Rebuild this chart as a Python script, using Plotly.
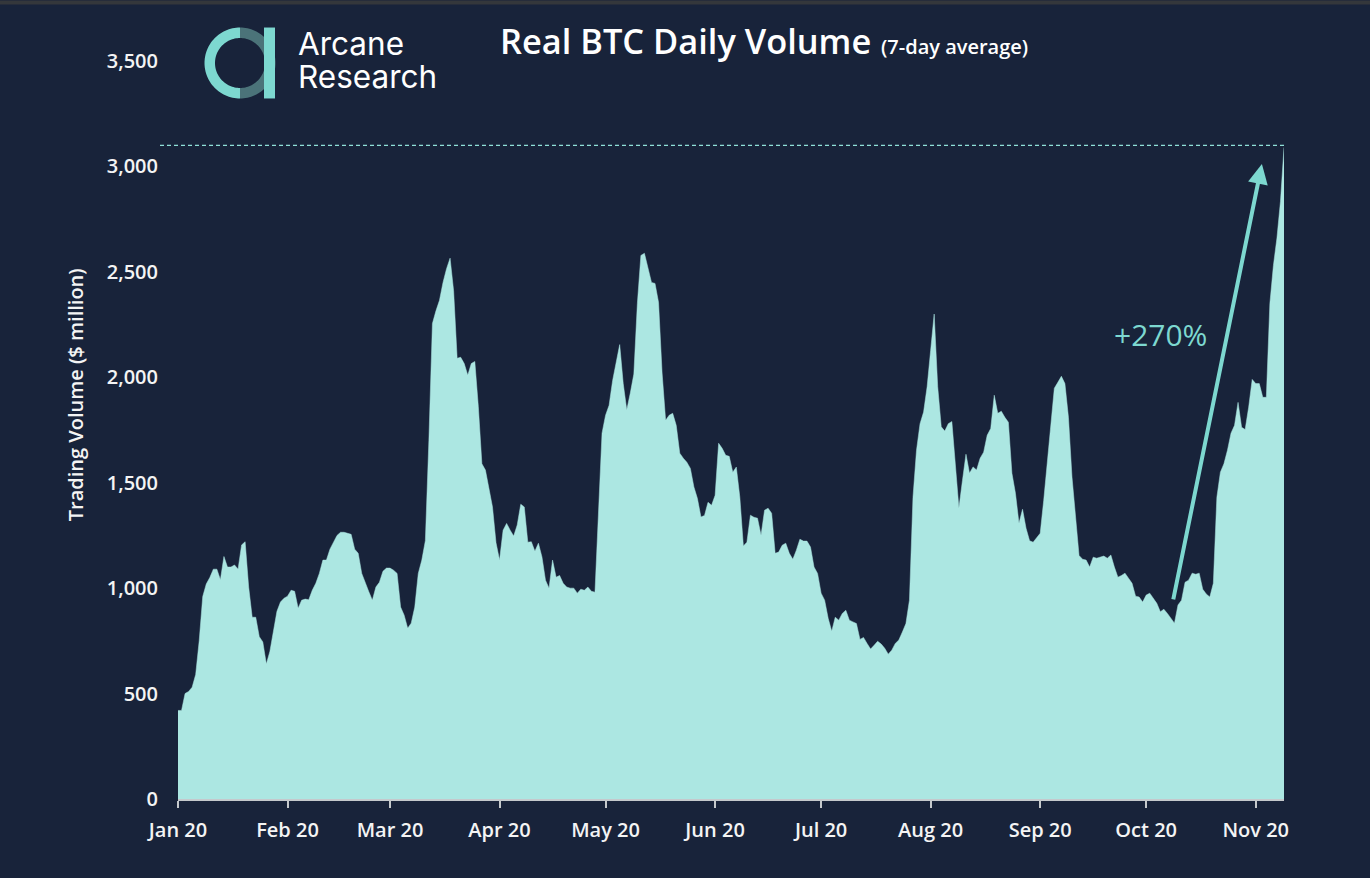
import numpy as np
import pandas as pd
import plotly.graph_objects as go

jan = [420,420,500,510,530,590,750,960,1020,1050,1090,1090,1040,1150,1100,1100,1110,1090,1205,1220,1005,862,862,770,745,640,700,800,890,934,952]
feb = [962,990,985,905,943,948,945,990,1023,1070,1133,1133,1185,1220,1250,1265,1265,1260,1255,1185,1165,1070,1023,983,943,1005,1028,1080,1095]
mar = [1095,1085,1070,910,872,810,834,910,1070,1133,1225,1700,2255,2315,2365,2450,2515,2565,2410,2090,2095,2065,2010,2065,2075,1860,1590,1560,1465,1385,1215]
apr = [1133,1275,1307,1275,1247,1300,1398,1385,1218,1220,1175,1213,1148,1038,1000,1133,1052,1060,1023,1005,1000,1000,976,995,990,1005,985,981,1385,1735]
may = [1820,1867,1985,2065,2155,1970,1845,1925,2015,2350,2578,2588,2515,2450,2445,2355,2020,1796,1820,1829,1772,1640,1616,1597,1568,1480,1425,1337,1345,1407,1393]
jun = [1440,1687,1663,1630,1625,1550,1574,1431,1200,1218,1346,1336,1332,1251,1370,1379,1355,1165,1171,1204,1213,1165,1137,1180,1232,1223,1223,1195,1100,1070]
jul = [976,943,857,796,862,848,880,895,848,840,832,757,766,738,711,729,748,735,715,687,706,738,754,792,832,943,1431,1654,1780,1835,1955]
aug = [2128,2300,1955,1765,1745,1780,1790,1590,1380,1510,1635,1545,1575,1560,1616,1645,1725,1757,1915,1829,1839,1810,1787,1545,1450,1308,1374,1284,1225,1218,1237]
sep = [1260,1417,1590,1780,1948,1976,2005,1970,1810,1527,1337,1155,1137,1133,1100,1147,1142,1147,1152,1142,1157,1100,1052,1060,1071,1047,1023,962,958,934]
oct_ = [967,976,952,928,888,900,880,857,834,920,943,1028,1038,1071,1066,1071,995,972,958,1023,1431,1550,1590,1654,1735,1772,1881,1763,1752,1858,1990]
nov = [1970,1970,1905,1905,2350,2530,2660,2835,3090]

volume = jan + feb + mar + apr + may + jun + jul + aug + sep + oct_ + nov
dates = pd.date_range("2020-01-01", periods=len(volume), freq="D")
y_ticks = [0, 500, 1000, 1500, 2000, 2500, 3000, 3500]

W, H = 1370, 878
L, R, T, B = 178, 1284, 60.5, 799
BG = "#18233a"
FILL = "#ace7e2"
TEAL = "#7dd8d0"
DARKTEAL = "#4b7379"
TXT = "#f4f4f4"
FONT = "Open Sans"


def px(x):
    return (x - L) / (R - L)


def py(y):
    return (B - y) / (B - T)


def poly(points):
    return "M " + " L ".join(f"{px(a):.5f},{py(b):.5f}" for a, b in points) + " Z"


def ring(cx, cy, r0, r1, a0, a1):
    t = np.radians(np.linspace(a0, a1, 60))
    outer = [(cx + r1 * np.cos(v), cy + r1 * np.sin(v)) for v in t]
    inner = [(cx + r0 * np.cos(v), cy + r0 * np.sin(v)) for v in t[::-1]]
    return poly(outer + inner)


def paper_shape(path, color):
    return dict(type="path", xref="paper", yref="paper", path=path,
                fillcolor=color, line=dict(width=0))


fig = go.Figure()
fig.add_trace(go.Scatter(x=dates, y=volume, mode="lines", fill="tozeroy",
                         fillcolor=FILL, line=dict(color=FILL, width=0.5),
                         showlegend=False))

shapes = [
    dict(type="rect", xref="paper", yref="paper", x0=px(0), x1=px(W), y0=py(0), y1=py(4),
         fillcolor="#34373b", line=dict(width=0)),
    dict(type="line", xref="paper", yref="y", x0=px(160), x1=1, y0=3100, y1=3100,
         line=dict(color="#8fe0d8", width=1.2, dash="4px,3px")),
    paper_shape(ring(240, 62.5, 25, 35.5, 90, 270), TEAL),
    paper_shape(ring(240, 62.5, 25, 35.5, -90, 90), DARKTEAL),
    paper_shape(poly([(264, 27), (275, 27), (275, 98), (264, 98)]), TEAL),
]

annotations = [
    dict(xref="paper", yref="paper", x=px(75), y=py(394), text="Trading Volume ($ million)",
         textangle=-90, showarrow=False, xanchor="center", yanchor="middle",
         font=dict(family=FONT, size=20, color=TXT, weight=600)),
    dict(xref="paper", yref="paper", x=px(498), y=py(40), text="Real BTC Daily Volume",
         showarrow=False, xanchor="left", yanchor="middle",
         font=dict(family=FONT, size=34.4, color="#ffffff", weight=600)),
    dict(xref="paper", yref="paper", x=px(879), y=py(46), text="(7-day average)",
         showarrow=False, xanchor="left", yanchor="middle",
         font=dict(family=FONT, size=20, color="#ffffff", weight=600)),
    dict(xref="paper", yref="paper", x=px(296), y=py(43), text="Arcane",
         showarrow=False, xanchor="left", yanchor="middle",
         font=dict(family="Inter", size=31.5, color="#ffffff")),
    dict(xref="paper", yref="paper", x=px(296), y=py(76), text="Research",
         showarrow=False, xanchor="left", yanchor="middle",
         font=dict(family="Inter", size=31.5, color="#ffffff")),
    dict(xref="paper", yref="paper", x=px(1160), y=py(334), text="+270%",
         showarrow=False, xanchor="center", yanchor="middle",
         font=dict(family=FONT, size=30, color=TEAL, weight=500)),
    dict(x="2020-11-02 18:00", y=3012, ax="2020-10-08 14:00", ay=940,
         xref="x", yref="y", axref="x", ayref="y", text="", showarrow=True,
         arrowhead=2, arrowsize=1, arrowwidth=4, arrowcolor=TEAL, standoff=0),
]

fig.update_layout(
    width=W, height=H, autosize=False,
    margin=dict(l=L, r=W - R, t=T, b=H - B, pad=0),
    paper_bgcolor=BG, plot_bgcolor=BG,
    shapes=shapes, annotations=annotations,
    showlegend=False,
    xaxis=dict(type="date", range=[dates[0], dates[-1]], dtick="M1", tick0="2020-01-01",
               tickformat="%b %y", showgrid=False, zeroline=False,
               showline=True, linecolor="#c5c9cc", linewidth=1.5,
               ticks="outside", ticklen=7, tickwidth=1.5, tickcolor="#c5c9cc",
               ticklabelstandoff=5,
               tickfont=dict(family=FONT, size=20, color=TXT, weight=600)),
    yaxis=dict(range=[0, 3500], tickmode="array", tickvals=y_ticks,
               tickformat=",", showgrid=False, zeroline=False, showline=False,
               ticks="", ticklabelstandoff=19,
               tickfont=dict(family=FONT, size=20, color=TXT, weight=600)),
)

fig.write_html("out.html", config={"displayModeBar": False},
               post_script=f"document.body.style.margin='0';document.body.style.background='{BG}';")
